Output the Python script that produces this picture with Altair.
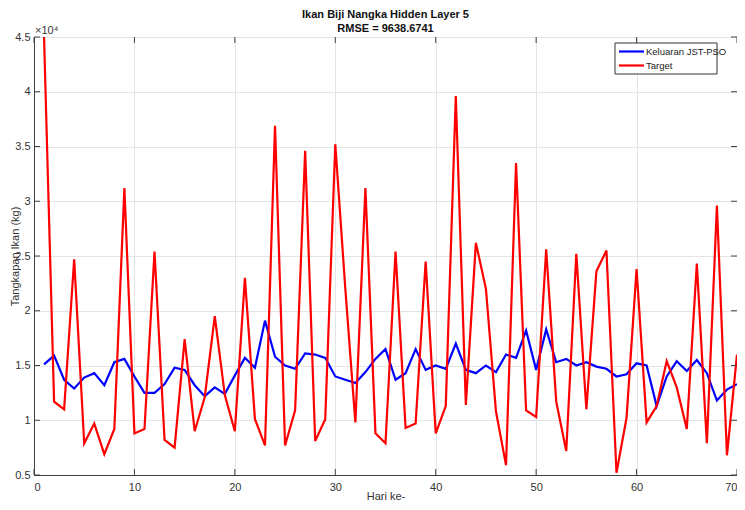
import altair as alt
import pandas as pd

days = list(range(1, 71))

target = [45000, 11700, 11000, 24700, 7900, 9700, 6900, 9200, 31200, 8800,
          9200, 25400, 8200, 7500, 17400, 9000, 12100, 19500, 12300, 9000,
          23000, 10100, 7700, 36900, 7700, 10900, 34600, 8100, 10100, 35200,
          22000, 9800, 31200, 8800, 7900, 25400, 9300, 9700, 24500, 8800,
          11300, 39600, 11400, 26200, 22000, 10800, 5900, 33500, 10900, 10300,
          25600, 11700, 7200, 25200, 11000, 23600, 25500, 5200, 10200, 23800,
          9800, 11300, 15400, 13000, 9200, 24300, 7900, 29600, 6800, 16000]

output = [15100, 15900, 13700, 12900, 13900, 14300, 13200, 15300, 15600, 14000,
          12500, 12500, 13300, 14800, 14600, 13200, 12200, 13000, 12400, 14100,
          15700, 14800, 19100, 15800, 15000, 14700, 16100, 16000, 15700, 14000,
          13700, 13400, 14400, 15600, 16500, 13700, 14300, 16500, 14600, 15000,
          14700, 17000, 14600, 14300, 15000, 14400, 16000, 15700, 18200, 14600,
          18300, 15300, 15600, 15000, 15300, 14900, 14700, 14000, 14200, 15200,
          15000, 11300, 14000, 15400, 14500, 15500, 14300, 11800, 12800, 13300]

series_names = ["Keluaran JST-PSO", "Target"]
series_colors = ["#0000ff", "#ff0000"]
title_lines = ["Ikan Biji Nangka Hidden Layer 5", "RMSE = 9638.6741"]

x_ticks = [0, 10, 20, 30, 40, 50, 60, 70]
y_ticks = [5000, 10000, 15000, 20000, 25000, 30000, 35000, 40000, 45000]

df_out = pd.DataFrame({"day": days, "value": output, "series": series_names[0]})
df_tgt = pd.DataFrame({"day": days, "value": target, "series": series_names[1]})

W, H = 703, 438
FONT = "Liberation Sans"

xs = alt.Scale(domain=[0, 70], nice=False)
ys = alt.Scale(domain=[5000, 45000], nice=False)
cs = alt.Scale(domain=series_names, range=series_colors)

x_axis = alt.Axis(values=x_ticks, title="Hari ke-", grid=True, gridColor="#e4e4e4",
                  domainColor="#404040", tickColor="#404040", tickSize=0,
                  labelFontSize=11, labelColor="#333333", labelPadding=6,
                  titleFontSize=11, titleFontWeight="normal", titleColor="#333333",
                  titleY=15, titleBaseline="top",
                  labelFont=FONT, titleFont=FONT)
y_axis = alt.Axis(values=y_ticks, title="Tangkapan Ikan (kg)", grid=True, gridColor="#e4e4e4",
                  domainColor="#404040", tickColor="#404040", tickSize=0,
                  labelExpr="datum.value / 10000",
                  labelFontSize=11, labelColor="#333333", labelPadding=4,
                  titleFontSize=11, titleFontWeight="normal", titleColor="#333333",
                  titleX=-19, titleY=H / 2, titleAlign="center", titleBaseline="middle",
                  titleAngle=270, labelFont=FONT, titleFont=FONT)

line_out = alt.Chart(df_out).mark_line(strokeWidth=2.2, clip=True).encode(
    x=alt.X("day:Q", scale=xs, axis=x_axis),
    y=alt.Y("value:Q", scale=ys, axis=y_axis),
    color=alt.Color("series:N", scale=cs, legend=None),
)
line_tgt = alt.Chart(df_tgt).mark_line(strokeWidth=2.2, clip=True).encode(
    x=alt.X("day:Q", scale=xs),
    y=alt.Y("value:Q", scale=ys),
    color=alt.Color("series:N", scale=cs, legend=None),
)

# inner ticks on the four edges
tick_style = dict(color="#404040", strokeWidth=1)
top_ticks = alt.Chart(pd.DataFrame({"t": x_ticks})).mark_rule(**tick_style).encode(
    x=alt.X("t:Q", scale=xs), y=alt.value(0), y2=alt.value(6))
bot_ticks = alt.Chart(pd.DataFrame({"t": x_ticks})).mark_rule(**tick_style).encode(
    x=alt.X("t:Q", scale=xs), y=alt.value(H), y2=alt.value(H - 6))
right_ticks = alt.Chart(pd.DataFrame({"t": y_ticks})).mark_rule(**tick_style).encode(
    y=alt.Y("t:Q", scale=ys), x=alt.value(W), x2=alt.value(W - 6))
left_ticks = alt.Chart(pd.DataFrame({"t": y_ticks})).mark_rule(**tick_style).encode(
    y=alt.Y("t:Q", scale=ys), x=alt.value(0), x2=alt.value(6))

exp_text = alt.Chart(pd.DataFrame({"s": ["×10⁴"]})).mark_text(
    align="left", baseline="bottom", fontSize=11, font=FONT, color="#333333").encode(
    text="s:N", x=alt.value(1), y=alt.value(-1))

title1 = alt.Chart(pd.DataFrame({"s": [title_lines[0]]})).mark_text(
    align="center", baseline="middle", fontSize=11, fontWeight="bold", font=FONT, color="#111111").encode(
    text="s:N", x=alt.value(W / 2), y=alt.value(-22))
title2 = alt.Chart(pd.DataFrame({"s": [title_lines[1]]})).mark_text(
    align="center", baseline="middle", fontSize=11, fontWeight="bold", font=FONT, color="#111111").encode(
    text="s:N", x=alt.value(W / 2), y=alt.value(-8))

# legend box drawn by hand
LX1 = W - 20
LX0, LY0, LY1 = LX1 - 102, 6, 37
ROW_Y = [14.5, 28.5]
leg_box = alt.Chart(pd.DataFrame({"a": [0]})).mark_rect(
    fill="white", stroke="#333333", strokeWidth=1).encode(
    x=alt.value(LX0), x2=alt.value(LX1), y=alt.value(LY0), y2=alt.value(LY1))

leg_layers = []
for i, name in enumerate(series_names):
    d = pd.DataFrame({"series": [name]})
    leg_layers.append(alt.Chart(d).mark_rule(strokeWidth=2.2, color=series_colors[i]).encode(
        x=alt.value(LX0 + 4), x2=alt.value(LX0 + 29), y=alt.value(ROW_Y[i])))
    leg_layers.append(alt.Chart(d).mark_text(
        align="left", baseline="middle", fontSize=9.5, font=FONT, color="#222222").encode(
        x=alt.value(LX0 + 31), y=alt.value(ROW_Y[i]), text="series:N"))

chart = alt.layer(
    line_out, line_tgt, top_ticks, bot_ticks, right_ticks, left_ticks,
    exp_text, title1, title2, leg_box, *leg_layers
).properties(
    width=W, height=H,
    autosize=alt.AutoSizeParams(type="none"),
    padding={"left": 26, "top": 29, "right": 0, "bottom": 27},
).configure_view(stroke="#404040", strokeWidth=1).configure(background="white")

chart.save("out.html", embed_options={"renderer": "svg", "actions": False})
